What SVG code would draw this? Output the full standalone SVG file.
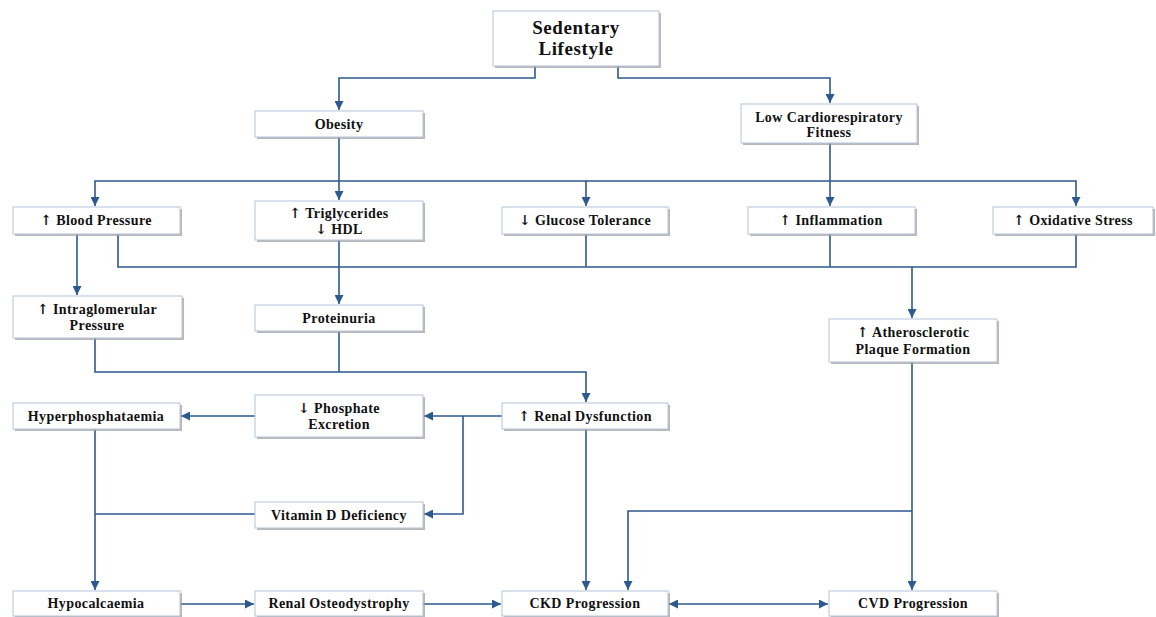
<svg xmlns="http://www.w3.org/2000/svg" width="1156" height="617" viewBox="0 0 1156 617">
<style>
.sh{fill:#9a9a9a;opacity:0.7}
.bx{fill:#ffffff;stroke:#b4c3da;stroke-width:1}
.t{font-family:"Liberation Serif",serif;font-weight:bold;font-size:14px;letter-spacing:0.4px;fill:#111;text-anchor:middle}
.tl{font-family:"Liberation Serif",serif;font-weight:bold;font-size:19px;letter-spacing:0.6px;fill:#111;text-anchor:middle}
.ar{font-family:"DejaVu Serif",serif;font-weight:bold;fill:#111}
.c{fill:none;stroke:#2d5a8e;stroke-width:1.6}
</style>
<defs>
<marker id="ah" viewBox="0 0 10 10" refX="10" refY="5" markerWidth="9" markerHeight="9" markerUnits="userSpaceOnUse" orient="auto-start-reverse">
<path d="M0,0 L10,5 L0,10 z" fill="#2d5a8e"/>
</marker>
</defs>
<rect width="1156" height="617" fill="#ffffff"/>
<g id="connectors">
<path class="c" d="M535,66 V78 H339 V110" marker-end="url(#ah)"/>
<path class="c" d="M618,66 V78 H830 V103" marker-end="url(#ah)"/>
<path class="c" d="M339,137 V200" marker-end="url(#ah)"/>
<path class="c" d="M339,181 H95 V206" marker-end="url(#ah)"/>
<path class="c" d="M339,181 H586 V206" marker-end="url(#ah)"/>
<path class="c" d="M586,181 H1076 V206" marker-end="url(#ah)"/>
<path class="c" d="M830,143 V206" marker-end="url(#ah)"/>
<path class="c" d="M118,234 V267 H1076 V234"/>
<path class="c" d="M586,234 V267"/>
<path class="c" d="M830,234 V267"/>
<path class="c" d="M912,267 V318" marker-end="url(#ah)"/>
<path class="c" d="M77,234 V295" marker-end="url(#ah)"/>
<path class="c" d="M339,240 V304" marker-end="url(#ah)"/>
<path class="c" d="M95,338 V372 H586 V402" marker-end="url(#ah)"/>
<path class="c" d="M339,331 V372"/>
<path class="c" d="M502,416 H424" marker-end="url(#ah)"/>
<path class="c" d="M463,416 V514 H424" marker-end="url(#ah)"/>
<path class="c" d="M255,416 H181" marker-end="url(#ah)"/>
<path class="c" d="M95,429 V590" marker-end="url(#ah)"/>
<path class="c" d="M255,514 H95"/>
<path class="c" d="M180,604 H254" marker-end="url(#ah)"/>
<path class="c" d="M423,604 H501" marker-end="url(#ah)"/>
<path class="c" d="M669,604 H828" marker-start="url(#ah)" marker-end="url(#ah)"/>
<path class="c" d="M586,429 V590" marker-end="url(#ah)"/>
<path class="c" d="M912,362 V590" marker-end="url(#ah)"/>
<path class="c" d="M912,511 H628 V590" marker-end="url(#ah)"/>
</g>
<g id="sedentary"><rect class="sh" x="495" y="13" width="166" height="55"/><rect class="bx" x="493" y="11" width="166" height="55"/><text class="tl" x="576" y="34">Sedentary</text><text class="tl" x="576" y="55">Lifestyle</text></g>
<g id="obesity"><rect class="sh" x="257" y="113" width="168" height="26"/><rect class="bx" x="255" y="111" width="168" height="26"/><text class="t" x="339" y="129">Obesity</text></g>
<g id="lowfitness"><rect class="sh" x="743" y="106" width="176" height="39"/><rect class="bx" x="741" y="104" width="176" height="39"/><text class="t" x="829" y="122">Low Cardiorespiratory</text><text class="t" x="829" y="137">Fitness</text></g>
<g id="bloodpressure"><rect class="sh" x="15" y="209" width="167" height="27"/><rect class="bx" x="13" y="207" width="167" height="27"/><text class="t" x="96" y="225"><tspan class="ar">↑</tspan> Blood Pressure</text></g>
<g id="triglycerides"><rect class="sh" x="257" y="203" width="168" height="39"/><rect class="bx" x="255" y="201" width="168" height="39"/><text class="t" x="339" y="218"><tspan class="ar">↑</tspan> Triglycerides</text><text class="t" x="339" y="234"><tspan class="ar">↓</tspan> HDL</text></g>
<g id="glucose"><rect class="sh" x="504" y="209" width="166" height="27"/><rect class="bx" x="502" y="207" width="166" height="27"/><text class="t" x="585" y="225"><tspan class="ar">↓</tspan> Glucose Tolerance</text></g>
<g id="inflammation"><rect class="sh" x="750" y="209" width="167" height="27"/><rect class="bx" x="748" y="207" width="167" height="27"/><text class="t" x="831" y="225"><tspan class="ar">↑</tspan> Inflammation</text></g>
<g id="oxidative"><rect class="sh" x="995" y="209" width="160" height="27"/><rect class="bx" x="993" y="207" width="160" height="27"/><text class="t" x="1073" y="225"><tspan class="ar">↑</tspan> Oxidative Stress</text></g>
<g id="intraglomerular"><rect class="sh" x="15" y="298" width="169" height="42"/><rect class="bx" x="13" y="296" width="169" height="42"/><text class="t" x="97" y="314"><tspan class="ar">↑</tspan> Intraglomerular</text><text class="t" x="97" y="330">Pressure</text></g>
<g id="proteinuria"><rect class="sh" x="257" y="307" width="168" height="26"/><rect class="bx" x="255" y="305" width="168" height="26"/><text class="t" x="339" y="323">Proteinuria</text></g>
<g id="atherosclerotic"><rect class="sh" x="831" y="321" width="168" height="43"/><rect class="bx" x="829" y="319" width="168" height="43"/><text class="t" x="913" y="337"><tspan class="ar">↑</tspan> Atherosclerotic</text><text class="t" x="913" y="354">Plaque Formation</text></g>
<g id="renaldysfunction"><rect class="sh" x="504" y="405" width="166" height="26"/><rect class="bx" x="502" y="403" width="166" height="26"/><text class="t" x="585" y="421"><tspan class="ar">↑</tspan> Renal Dysfunction</text></g>
<g id="phosphate"><rect class="sh" x="257" y="397" width="168" height="42"/><rect class="bx" x="255" y="395" width="168" height="42"/><text class="t" x="339" y="413"><tspan class="ar">↓</tspan> Phosphate</text><text class="t" x="339" y="429">Excretion</text></g>
<g id="hyperphosphataemia"><rect class="sh" x="15" y="405" width="167" height="26"/><rect class="bx" x="13" y="403" width="167" height="26"/><text class="t" x="96" y="421">Hyperphosphataemia</text></g>
<g id="vitamind"><rect class="sh" x="257" y="504" width="168" height="26"/><rect class="bx" x="255" y="502" width="168" height="26"/><text class="t" x="339" y="520">Vitamin D Deficiency</text></g>
<g id="hypocalcaemia"><rect class="sh" x="15" y="593" width="167" height="25"/><rect class="bx" x="13" y="591" width="167" height="25"/><text class="t" x="96" y="608">Hypocalcaemia</text></g>
<g id="osteodystrophy"><rect class="sh" x="257" y="593" width="168" height="25"/><rect class="bx" x="255" y="591" width="168" height="25"/><text class="t" x="339" y="608">Renal Osteodystrophy</text></g>
<g id="ckd"><rect class="sh" x="504" y="593" width="166" height="25"/><rect class="bx" x="502" y="591" width="166" height="25"/><text class="t" x="585" y="608">CKD Progression</text></g>
<g id="cvd"><rect class="sh" x="831" y="593" width="168" height="25"/><rect class="bx" x="829" y="591" width="168" height="25"/><text class="t" x="913" y="608">CVD Progression</text></g>
</svg>
